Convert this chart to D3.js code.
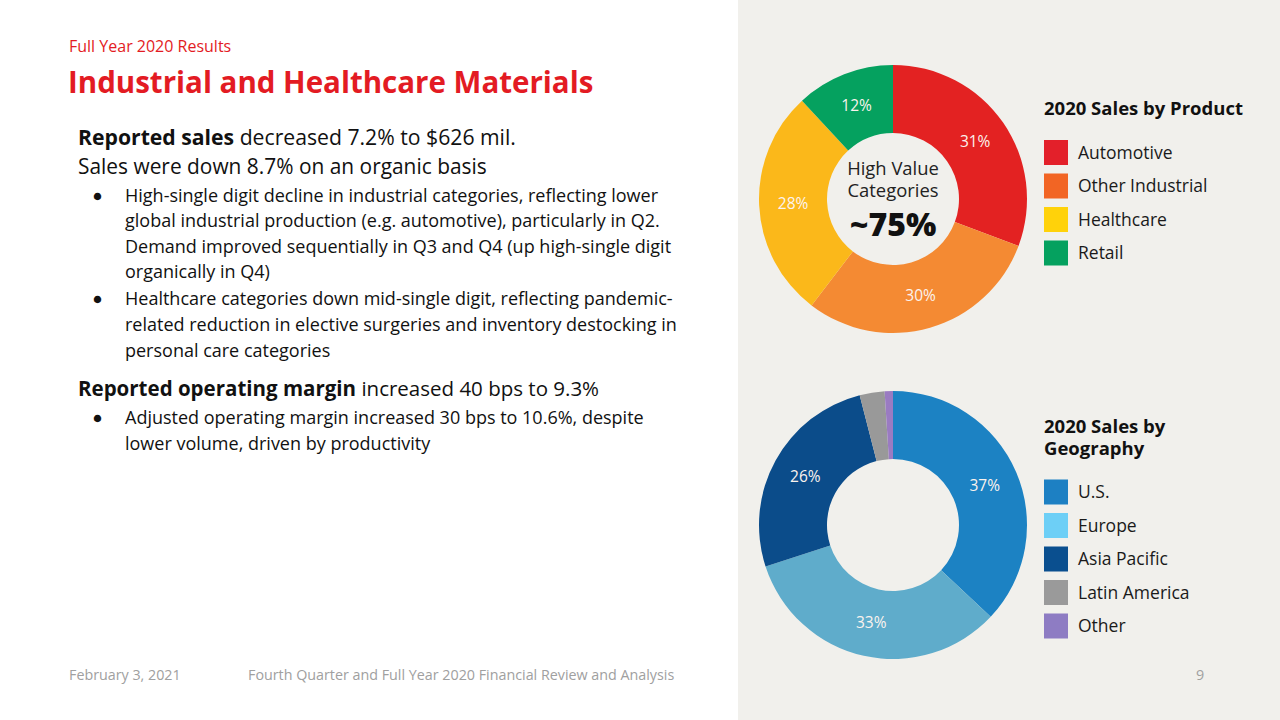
<!DOCTYPE html>
<html>
<head>
<meta charset="utf-8">
<script src="https://cdn.jsdelivr.net/npm/d3@7"></script>
<style>
  html, body { margin: 0; padding: 0; background: #ffffff; }
  svg { display: block; }
  text { font-family: "Open Sans", Lato, sans-serif; }
</style>
</head>
<body>
<svg id="chart" width="1280" height="720"></svg>
<script>
// ---- data ----
const productCategories = ["Automotive", "Other Industrial", "Healthcare", "Retail"];
const productValues = [31, 30, 28, 12];
const productLabels = ["31%", "30%", "28%", "12%"];
const productSliceColors = ["#E32222", "#F48A33", "#FBB81A", "#05A15F"];
const productLegendColors = ["#E3202A", "#F26524", "#FFD20A", "#05A15F"];

const geoCategories = ["U.S.", "Europe", "Asia Pacific", "Latin America", "Other"];
const geoValues = [37, 33, 26, 3, 1];
const geoLabels = ["37%", "33%", "26%", "", ""];
const geoSliceColors = ["#1C82C3", "#5FACCB", "#0B4C8A", "#999999", "#9A7BC2"];
const geoLegendColors = ["#1D80C3", "#6DCFF6", "#0A4F8F", "#9A9A9A", "#8E7CC3"];

const headerKicker = "Full Year 2020 Results";
const headerTitle = "Industrial and Healthcare Materials";
const footerDate = "February 3, 2021";
const footerTitle = "Fourth Quarter and Full Year 2020 Financial Review and Analysis";
const pageNumber = "9";

// ---- drawing ----
const svg = d3.select("#chart");
svg.append("rect").attr("x", 0).attr("y", 0).attr("width", 1280).attr("height", 720).attr("fill", "#ffffff");
svg.append("rect").attr("x", 738).attr("y", 0).attr("width", 542).attr("height", 720).attr("fill", "#F1F0EC");

// header
svg.append("text").attr("x", 69).attr("y", 52).attr("fill", "#E31B23")
  .attr("font-size", 16).text(headerKicker);
svg.append("text").attr("x", 68).attr("y", 93).attr("fill", "#E31B23")
  .attr("font-size", 29.5).attr("font-weight", 700).text(headerTitle);

// body text
const body = svg.append("g").attr("fill", "#111");
function richLine(x, y, size, parts) {
  const t = body.append("text").attr("x", x).attr("y", y).attr("font-size", size);
  parts.forEach(p => t.append("tspan").attr("font-weight", p[1] ? 700 : 400).text(p[0]));
}
richLine(78, 145, 21.2, [["Reported sales", true], [" decreased 7.2% to $626 mil.", false]]);
richLine(78, 173.5, 20.9, [["Sales were down 8.7% on an organic basis", false]]);

const bulletLines = [
  [201.5, true, "High-single digit decline in industrial categories, reflecting lower"],
  [227, false, "global industrial production (e.g. automotive), particularly in Q2."],
  [252.5, false, "Demand improved sequentially in Q3 and Q4 (up high-single digit"],
  [278, false, "organically in Q4)"],
  [304.5, true, "Healthcare categories down mid-single digit, reflecting pandemic-"],
  [331, false, "related reduction in elective surgeries and inventory destocking in"],
  [357, false, "personal care categories"]
];
bulletLines.forEach(b => {
  if (b[1]) body.append("text").attr("x", 93).attr("y", b[0] - 0.5).attr("font-size", 15).text("●");
  body.append("text").attr("x", 125).attr("y", b[0]).attr("font-size", 18).text(b[2]);
});
richLine(78, 395.5, 20.5, [["Reported operating margin", true], [" increased 40 bps to 9.3%", false]]);
const bullet2 = [
  [423.5, true, "Adjusted operating margin increased 30 bps to 10.6%, despite"],
  [449.5, false, "lower volume, driven by productivity"]
];
bullet2.forEach(b => {
  if (b[1]) body.append("text").attr("x", 93).attr("y", b[0] - 0.5).attr("font-size", 15).text("●");
  body.append("text").attr("x", 125).attr("y", b[0]).attr("font-size", 18).text(b[2]);
});

// footer
svg.append("text").attr("x", 69).attr("y", 680).attr("font-size", 14.3).attr("fill", "#A0A0A0").text(footerDate);
svg.append("text").attr("x", 248).attr("y", 680).attr("font-size", 14.3).attr("fill", "#A0A0A0").text(footerTitle);
svg.append("text").attr("x", 1200).attr("y", 680).attr("font-size", 14.3).attr("fill", "#A0A0A0")
  .attr("text-anchor", "middle").text(pageNumber);

// donuts
const pie = d3.pie().sort(null).value(d => d);
const arc = d3.arc().innerRadius(66).outerRadius(134);
const labelArc = d3.arc().innerRadius(100).outerRadius(100);

function donut(cx, cy, values, colors, labels) {
  const g = svg.append("g").attr("transform", `translate(${cx},${cy})`);
  const arcs = pie(values);
  g.selectAll("path").data(arcs).join("path")
    .attr("d", arc).attr("fill", (d, i) => colors[i]);
  g.selectAll("text.lbl").data(arcs).join("text").attr("class", "lbl")
    .attr("transform", d => `translate(${labelArc.centroid(d)})`)
    .attr("text-anchor", "middle").attr("dy", "0.35em")
    .attr("font-family", "Roboto, sans-serif").attr("font-size", 15.5)
    .attr("fill", "#FBF3EE").text((d, i) => labels[i]);
  return g;
}
const g1 = donut(893, 199, productValues, productSliceColors, productLabels);
const centerText = g1.append("text").attr("y", -24.5).attr("text-anchor", "middle")
  .attr("font-size", 18.4).attr("fill", "#222");
centerText.append("tspan").attr("x", 0).text("High Value");
centerText.append("tspan").attr("x", 0).attr("dy", 22).text("Categories");
g1.append("text").attr("y", 36.5).attr("text-anchor", "middle").attr("font-size", 32).attr("font-weight", 800).attr("fill", "#111").text("~75%");

donut(893, 525, geoValues, geoSliceColors, geoLabels);

// legends
function legend(x, titleLines, titleY, rowY, cats, colors) {
  const g = svg.append("g");
  const title = g.append("text").attr("x", x).attr("y", titleY)
    .attr("font-size", 18.5).attr("font-weight", 700).attr("fill", "#111");
  titleLines.forEach((t, i) => title.append("tspan").attr("x", x).attr("dy", i === 0 ? 0 : 22).text(t));
  const y = d3.scalePoint().domain(cats).range([rowY, rowY + 33.5 * (cats.length - 1)]);
  cats.forEach((c, i) => {
    g.append("rect").attr("x", x).attr("y", y(c) - 12.5).attr("width", 24).attr("height", 25).attr("fill", colors[i]);
    g.append("text").attr("x", x + 34).attr("y", y(c)).attr("dy", "0.35em")
      .attr("font-size", 17.5).attr("fill", "#1a1a1a").text(c);
  });
}
legend(1044, ["2020 Sales by Product"], 115, 152.5, productCategories, productLegendColors);
legend(1044, ["2020 Sales by", "Geography"], 433, 492, geoCategories, geoLegendColors);
</script>
</body>
</html>
